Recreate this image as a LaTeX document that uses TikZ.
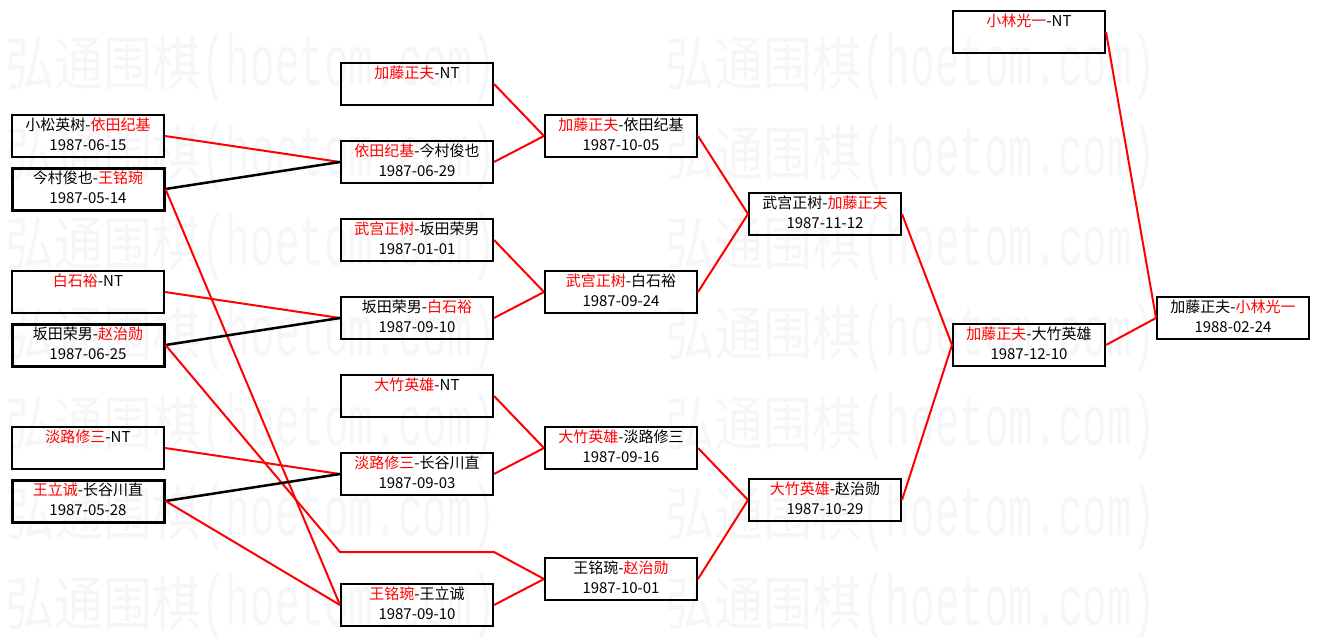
\documentclass[tikz,border=0pt]{standalone}
\usepackage{fontspec}
\usepackage{graphicx}
\setmainfont{Noto Sans CJK SC}
\newfontfamily\wmlatin{Liberation Mono}

\definecolor{wmgray}{gray}{0.965}
\newcommand{\win}[1]{\textcolor{red}{#1}}
\newcommand{\wmark}{\scalebox{1}[1.2]{\fontsize{49pt}{49pt}\selectfont 弘通围棋{\wmlatin\fontsize{41pt}{41pt}\selectfont\scalebox{1}[1.45]{(hoetom.com)}}}}

\tikzset{
  game/.style={draw=black, line width=2pt, minimum width=152pt, minimum height=42pt,
    inner sep=0pt, align=center, font=\fontsize{15pt}{20pt}\selectfont},
  seed/.style={game, line width=3pt},
  wline/.style={red, line width=2pt},
  lline/.style={black, line width=2.5pt},
  wm/.style={anchor=west, text=wmgray, inner sep=0pt}
}

\begin{document}
\begin{tikzpicture}[x=1pt, y=-1pt]
\useasboundingbox (0,0) rectangle (1321,637);

% watermark
\foreach \row in {0,...,6}
  \foreach \col in {0,1}
    \node[wm] (wm-\row-\col) at (5+660*\col, 67+90*\row) {\wmark};

% first round
\node[game] (a1) at (88,136) {小松英树-\win{依田纪基}\strut\\1987-06-15\strut};
\node[seed] (a2) at (88,189) {今村俊也-\win{王铭琬}\strut\\1987-05-14\strut};
\node[game] (a3) at (88,292) {\win{白石裕}-NT\strut\\\strut};
\node[seed] (a4) at (88,345) {坂田荣男-\win{赵治勋}\strut\\1987-06-25\strut};
\node[game] (a5) at (88,448) {\win{淡路修三}-NT\strut\\\strut};
\node[seed] (a6) at (88,501) {\win{王立诚}-长谷川直\strut\\1987-05-28\strut};

% second round
\node[game] (b1) at (417,84) {\win{加藤正夫}-NT\strut\\\strut};
\node[game] (b2) at (417,162) {\win{依田纪基}-今村俊也\strut\\1987-06-29\strut};
\node[game] (b3) at (417,240) {\win{武宫正树}-坂田荣男\strut\\1987-01-01\strut};
\node[game] (b4) at (417,318) {坂田荣男-\win{白石裕}\strut\\1987-09-10\strut};
\node[game] (b5) at (417,396) {\win{大竹英雄}-NT\strut\\\strut};
\node[game] (b6) at (417,474) {\win{淡路修三}-长谷川直\strut\\1987-09-03\strut};
\coordinate (p1) at (340,552);
\coordinate (p2) at (494,552);
\node[game] (b7) at (417,605) {\win{王铭琬}-王立诚\strut\\1987-09-10\strut};

% third round
\node[game] (c1) at (621,136) {\win{加藤正夫}-依田纪基\strut\\1987-10-05\strut};
\node[game] (c2) at (621,292) {\win{武宫正树}-白石裕\strut\\1987-09-24\strut};
\node[game] (c3) at (621,448) {\win{大竹英雄}-淡路修三\strut\\1987-09-16\strut};
\node[game] (c4) at (621,579) {王铭琬-\win{赵治勋}\strut\\1987-10-01\strut};

% later rounds
\node[game] (d1) at (825,214) {武宫正树-\win{加藤正夫}\strut\\1987-11-12\strut};
\node[game] (d2) at (825,500) {\win{大竹英雄}-赵治勋\strut\\1987-10-29\strut};
\node[game] (e1) at (1029,345) {\win{加藤正夫}-大竹英雄\strut\\1987-12-10\strut};
\node[game] (f1) at (1029,32) {\win{小林光一}-NT\strut\\\strut};
\node[game] (f2) at (1233,318) {加藤正夫-\win{小林光一}\strut\\1988-02-24\strut};

% connectors
\draw[wline] (a1.east) -- (b2.west);
\draw[lline] (a2.east) -- (b2.west);
\draw[wline] (a2.east) -- (b7.west);
\draw[wline] (a3.east) -- (b4.west);
\draw[lline] (a4.east) -- (b4.west);
\draw[wline] (a4.east) -- (p1) -- (p2) -- (c4.west);
\draw[wline] (a5.east) -- (b6.west);
\draw[lline] (a6.east) -- (b6.west);
\draw[wline] (a6.east) -- (b7.west);
\draw[wline] (b1.east) -- (c1.west);
\draw[wline] (b2.east) -- (c1.west);
\draw[wline] (b3.east) -- (c2.west);
\draw[wline] (b4.east) -- (c2.west);
\draw[wline] (b5.east) -- (c3.west);
\draw[wline] (b6.east) -- (c3.west);
\draw[wline] (b7.east) -- (c4.west);
\draw[wline] (c1.east) -- (d1.west);
\draw[wline] (c2.east) -- (d1.west);
\draw[wline] (c3.east) -- (d2.west);
\draw[wline] (c4.east) -- (d2.west);
\draw[wline] (d1.east) -- (e1.west);
\draw[wline] (d2.east) -- (e1.west);
\draw[wline] (e1.east) -- (f2.west);
\draw[wline] (f1.east) -- (f2.west);
\end{tikzpicture}
\end{document}
